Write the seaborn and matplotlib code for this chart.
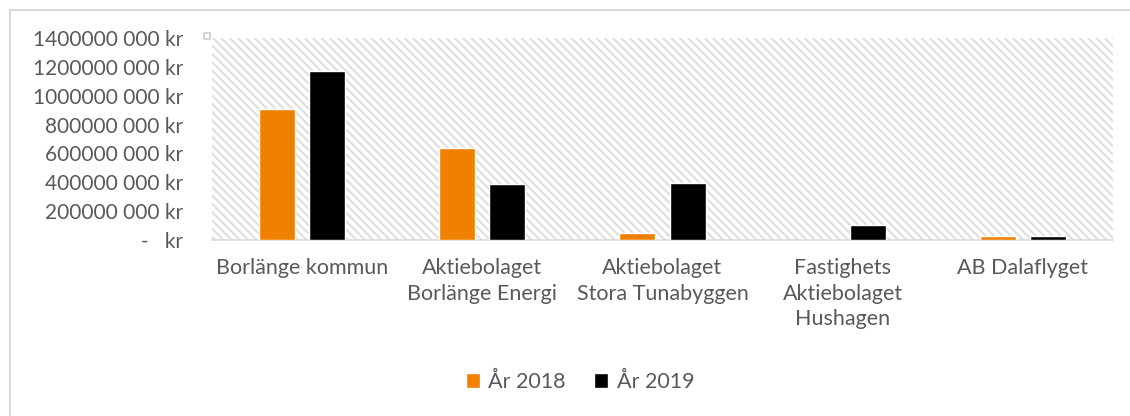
import matplotlib
matplotlib.use("Agg")
import matplotlib.pyplot as plt
from matplotlib.patches import Rectangle
import seaborn as sns
import pandas as pd

categories = [
    "Borlänge kommun",
    "Aktiebolaget\nBorlänge Energi",
    "Aktiebolaget\nStora Tunabyggen",
    "Fastighets\nAktiebolaget\nHushagen",
    "AB Dalaflyget",
]
series_names = ["År 2018", "År 2019"]
values_2018 = [908e6, 638e6, 46e6, 0, 28e6]
values_2019 = [1171e6, 388e6, 395e6, 104e6, 26e6]
ytick_values = [0, 200e6, 400e6, 600e6, 800e6, 1000e6, 1200e6, 1400e6]
ytick_labels = ["-   kr", "200000 000 kr", "400000 000 kr", "600000 000 kr",
                "800000 000 kr", "1000000 000 kr", "1200000 000 kr", "1400000 000 kr"]
colors = ["#F08000", "#000000"]

df = pd.DataFrame({
    "Bolag": categories * 2,
    "År": [series_names[0]] * len(categories) + [series_names[1]] * len(categories),
    "Värde": values_2018 + values_2019,
})

sns.set_theme(style="white")
plt.rcParams["font.family"] = ["Lato", "DejaVu Sans"]
plt.rcParams["hatch.color"] = "#dedede"
plt.rcParams["hatch.linewidth"] = 1.5

text_color = "#595959"
fig = plt.figure(figsize=(11.3, 4.16), dpi=100)
ax = fig.add_axes([212 / 1130, 1 - 240 / 416, (1113 - 212) / 1130, (240 - 38) / 416])

bg = Rectangle((0, 0), 1, 1, transform=ax.transAxes, facecolor="white",
               edgecolor="#dedede", linewidth=0, hatch="\\\\\\\\", zorder=0)
ax.add_patch(bg)

sns.barplot(data=df, x="Bolag", y="Värde", hue="År", palette=colors,
            width=0.556, gap=0.28, ax=ax, saturation=1, zorder=2,
            legend=True)

ax.set_ylim(0, 1400e6)
ax.set_xlim(-0.5, len(categories) - 0.5)
ax.set_yticks(ytick_values)
ax.set_yticklabels(ytick_labels)
ax.set_xlabel("")
ax.set_ylabel("")
for s in ["left", "right", "top"]:
    ax.spines[s].set_visible(False)
ax.spines["bottom"].set_color("#d9d9d9")
ax.spines["bottom"].set_linewidth(1.2)
ax.spines["bottom"].set_zorder(1)
ax.tick_params(axis="y", length=0, pad=21, labelsize=15, labelcolor=text_color)
ax.tick_params(axis="x", length=0, pad=13, labelsize=15.5, labelcolor=text_color)
for lbl in ax.get_xticklabels():
    lbl.set_linespacing(1.35)
    lbl.set_horizontalalignment("center")

ax.get_legend().remove()
handles, labels = ax.get_legend_handles_labels()
fig.legend(handles, labels, loc="center", bbox_to_anchor=(580 / 1130, 1 - 382 / 416),
           ncol=2, frameon=False, fontsize=15.5, labelcolor=text_color,
           handlelength=0.65, handleheight=0.65, handletextpad=0.4, columnspacing=1.3)

# chart border and selection handle
fig.add_artist(Rectangle((10 / 1130, -0.1), 1.2, 1 - 10 / 416 + 0.1, transform=fig.transFigure,
                         fill=False, edgecolor="#d9d9d9", linewidth=1.5))
fig.add_artist(Rectangle((204 / 1130, 1 - 39 / 416), 6 / 1130, 6 / 416, transform=fig.transFigure,
                         fill=False, edgecolor="#cfcfcf", linewidth=1.2))

fig.savefig("out.png", dpi=100)
